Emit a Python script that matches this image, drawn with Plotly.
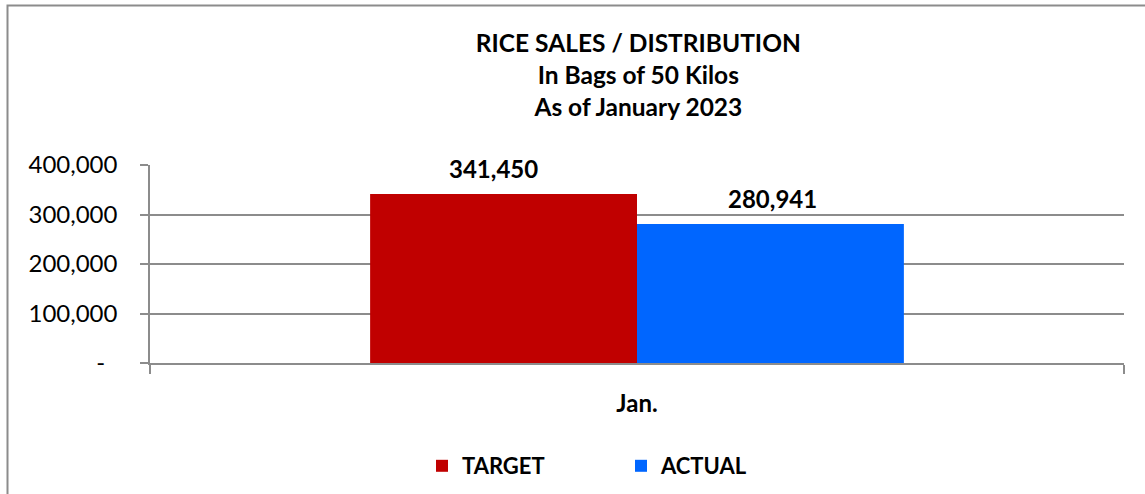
import plotly.graph_objects as go

categories = ["Jan."]
target = [341450]
actual = [280941]
series_names = ["TARGET", "ACTUAL"]
series_colors = ["#C00000", "#0066FF"]
tick_vals = [0, 100000, 200000, 300000, 400000]
tick_text = ["-\u00a0\u00a0", "100,000", "200,000", "300,000", "400,000"]
title_lines = ["RICE SALES / DISTRIBUTION", "In Bags of 50 Kilos", "As of January 2023"]

FONT = "Lato, Calibri, Carlito, sans-serif"
BARGAP = 0.452
PLOT_W = 974

fig = go.Figure()
series = [target, actual]
for name, vals, col in zip(series_names, series, series_colors):
    fig.add_trace(go.Bar(
        x=categories, y=vals, name=name, marker_color=col, marker_line_width=0,
    ))

# value labels above each bar
bar_w_px = PLOT_W * (1 - BARGAP) / len(series)
for i, vals in enumerate(series):
    shift = (i - (len(series) - 1) / 2) * bar_w_px
    for c, v in zip(categories, vals):
        fig.add_annotation(x=c, y=v, xref="x", yref="y", text=f"<b>{v:,}</b>",
                           showarrow=False, xshift=shift - (10 if i == 0 else -2),
                           yanchor="bottom", yshift=9,
                           font=dict(family=FONT, size=24, color="black"))

fig.update_layout(
    width=1145, height=494,
    margin=dict(l=150, r=21, t=165, b=131, autoexpand=False),
    paper_bgcolor="white", plot_bgcolor="white",
    barmode="group", bargap=BARGAP, bargroupgap=0,
    font=dict(family=FONT, color="black"),
    title=dict(text="<br>".join(f"<b>{t}</b>" for t in title_lines),
               x=0.5575, xanchor="center", y=1 - 52 / 494, yanchor="top",
               yref="container", font=dict(family=FONT, size=24.5, color="black")),
    showlegend=True,
    legend=dict(orientation="h", x=(422 - 150) / 974, xanchor="left",
                y=-(466 - 363) / 198, yanchor="middle", xref="paper", yref="paper",
                font=dict(family=FONT, size=22, color="black", weight="bold"),
                itemwidth=30, tracegroupgap=0, traceorder="normal",
                entrywidth=154, entrywidthmode="pixels"),
)
fig.update_yaxes(range=[0, 400000], tickvals=tick_vals, ticktext=tick_text,
                 showgrid=True, gridcolor="#8c8c8c", gridwidth=1.5,
                 ticks="outside", ticklen=8, tickcolor="#8c8c8c", tickwidth=1.5,
                 showline=True, linecolor="#8c8c8c", linewidth=1.5,
                 tickfont=dict(family=FONT, size=24, color="black"),
                 ticklabelstandoff=18, zeroline=False, fixedrange=True)
fig.update_xaxes(showline=True, linecolor="#8c8c8c", linewidth=1.5,
                 ticks="outside", ticklen=9, tickcolor="#8c8c8c", tickwidth=1.5,
                 tickson="boundaries",
                 tickfont=dict(family=FONT, size=24, color="black", weight="bold"),
                 ticklabelstandoff=18, fixedrange=True)

# outer chart frame (extends past the right and bottom edges like the reference)
fig.add_shape(type="rect", xref="paper", yref="paper",
              x0=-(150 - 7.5) / 974, x1=1.1, y0=-1.0, y1=(363 - 5.5) / 198,
              line=dict(color="#8c8c8c", width=2), layer="below")

fig.write_html("out.html", config={"displayModeBar": False})
